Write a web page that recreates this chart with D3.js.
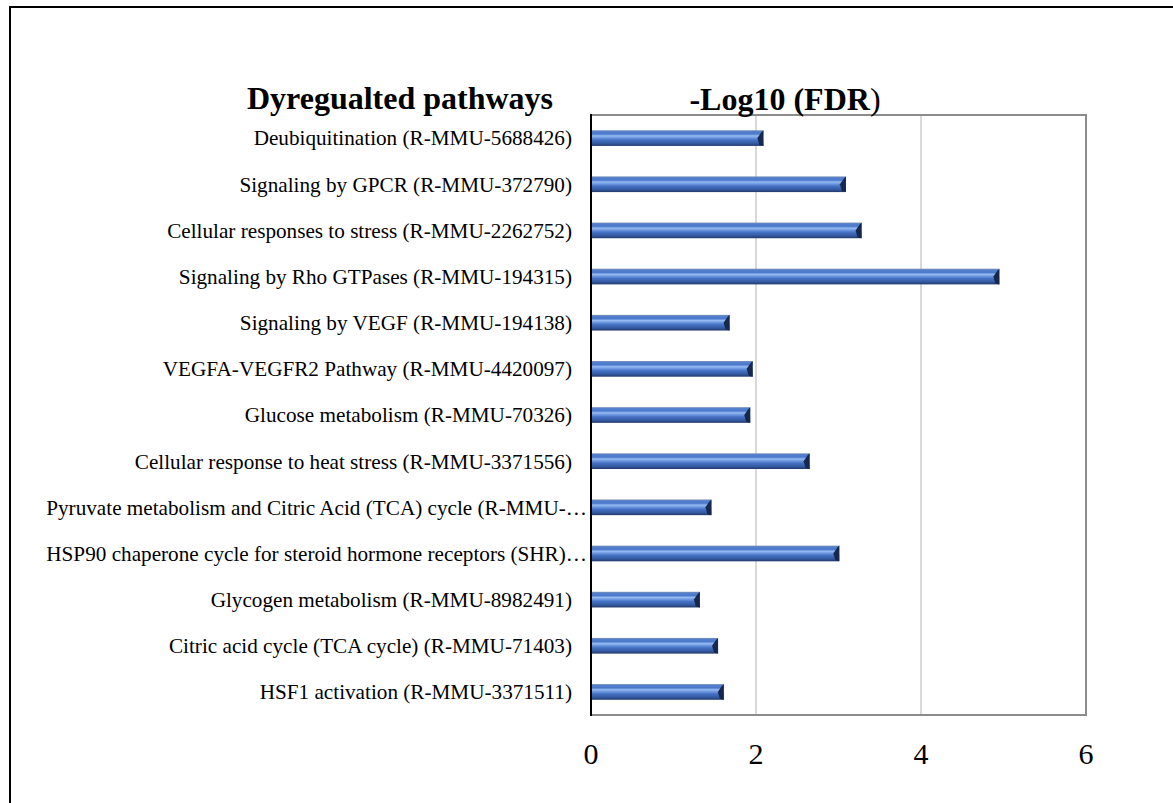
<!DOCTYPE html>
<html>
<head>
<meta charset="utf-8">
<script src="https://cdn.jsdelivr.net/npm/d3@7"></script>
<style>
  html, body { margin: 0; padding: 0; background: #fff; }
  svg { display: block; }
</style>
</head>
<body>
<svg id="chart" width="1173" height="803"></svg>
<script>
const categories = [
  "Deubiquitination (R-MMU-5688426)",
  "Signaling by GPCR (R-MMU-372790)",
  "Cellular responses to stress (R-MMU-2262752)",
  "Signaling by Rho GTPases (R-MMU-194315)",
  "Signaling by VEGF (R-MMU-194138)",
  "VEGFA-VEGFR2 Pathway (R-MMU-4420097)",
  "Glucose metabolism (R-MMU-70326)",
  "Cellular response to heat stress (R-MMU-3371556)",
  "Pyruvate metabolism and Citric Acid (TCA) cycle (R-MMU-…",
  "HSP90 chaperone cycle for steroid hormone receptors (SHR)…",
  "Glycogen metabolism (R-MMU-8982491)",
  "Citric acid cycle (TCA cycle) (R-MMU-71403)",
  "HSF1 activation (R-MMU-3371511)"
];
const values = [2.09, 3.09, 3.28, 4.95, 1.68, 1.96, 1.93, 2.65, 1.46, 3.01, 1.32, 1.54, 1.61];
const xTicks = [0, 2, 4, 6];
const gridTicks = [2, 4];
const leftTitle = "Dyregualted pathways";
const axisTitle = "-Log10 (FDR";
const axisTitleEnd = ")";

const svg = d3.select("#chart");
const font = "'Liberation Serif', 'Times New Roman', serif";

// outer frame
svg.append("rect").attr("x", 10).attr("y", 7).attr("width", 1300).attr("height", 900)
  .attr("fill", "none").attr("stroke", "#000").attr("stroke-width", 2);

const plot = { left: 591, right: 1086, top: 115, bottom: 715 };
const x = d3.scaleLinear().domain([0, 6]).range([plot.left, plot.right]);
const y = d3.scaleBand().domain(categories).range([plot.top, plot.bottom]).paddingInner(0.66).paddingOuter(0.33);

// gradient
const defs = svg.append("defs");
const grad = defs.append("linearGradient").attr("id", "barGrad")
  .attr("x1", 0).attr("y1", 0).attr("x2", 0).attr("y2", 1);
[[0, "#8394b3"], [0.08, "#5580cc"], [0.24, "#4a78cc"], [0.36, "#96bbf2"], [0.48, "#6f98e0"],
 [0.62, "#4672c6"], [0.84, "#3459a0"], [1, "#22396a"]].forEach(([o, c]) =>
  grad.append("stop").attr("offset", o).attr("stop-color", c));

// gridlines
svg.append("g").selectAll("line").data(gridTicks).join("line")
  .attr("x1", d => x(d)).attr("x2", d => x(d))
  .attr("y1", plot.top).attr("y2", plot.bottom)
  .attr("stroke", "#d9d9d9").attr("stroke-width", 2);

// plot border (top, right, bottom)
svg.append("path")
  .attr("d", `M${x(0)},${plot.top}H${x(6)}V${plot.bottom}H${x(0)}`)
  .attr("fill", "none").attr("stroke", "#8c8c8c").attr("stroke-width", 2);

// bars
const bars = svg.append("g").selectAll("g").data(categories).join("g");
bars.append("rect")
  .attr("x", x(0)).attr("y", d => y(d))
  .attr("width", (d, i) => x(values[i]) - x(0))
  .attr("height", y.bandwidth())
  .attr("fill", "url(#barGrad)");
bars.append("path")
  .attr("d", (d, i) => {
    const x1 = x(values[i]), y0 = y(d), y1 = y(d) + y.bandwidth(), h = y.bandwidth();
    return `M${x1},${y0}L${x1},${y1}L${x1 - 4},${y1 - 1}L${x1 - 6},${y0 + h * 0.5}L${x1 - 2},${y0 + 2}Z`;
  })
  .attr("fill", "#16284d");

// left axis line
svg.append("line").attr("x1", x(0)).attr("x2", x(0))
  .attr("y1", plot.top - 1).attr("y2", plot.bottom + 1)
  .attr("stroke", "#000").attr("stroke-width", 2);

// category labels
svg.append("g").selectAll("text").data(categories).join("text")
  .attr("x", d => d.endsWith("…") ? 587 : 572)
  .attr("y", d => y(d) + y.bandwidth() / 2)
  .attr("dy", "0.35em")
  .attr("text-anchor", "end")
  .attr("font-family", font).attr("font-size", 21.2)
  .attr("fill", "#000")
  .text(d => d);

// x tick labels
svg.append("g").selectAll("text").data(xTicks).join("text")
  .attr("x", d => x(d)).attr("y", 764)
  .attr("text-anchor", "middle")
  .attr("font-family", font).attr("font-size", 30)
  .attr("fill", "#000")
  .text(d => d);

// titles
svg.append("text").attr("x", 400).attr("y", 109).attr("text-anchor", "middle")
  .attr("font-family", font).attr("font-size", 32).attr("font-weight", "bold")
  .text(leftTitle);
const t2 = svg.append("text").attr("x", 785).attr("y", 110).attr("text-anchor", "middle")
  .attr("font-family", font).attr("font-size", 32);
t2.append("tspan").attr("font-weight", "bold").text(axisTitle);
t2.append("tspan").text(axisTitleEnd);
</script>
</body>
</html>
